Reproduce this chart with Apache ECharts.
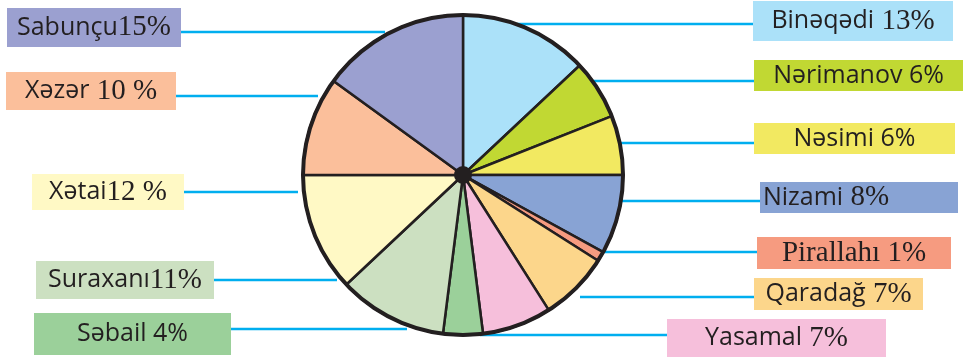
<!DOCTYPE html>
<html>
<head>
<meta charset="utf-8">
<script src="https://cdn.jsdelivr.net/npm/echarts@6/dist/echarts.min.js"></script>
<style>
  html, body { margin: 0; padding: 0; background: #fff; }
  #chart { width: 964px; height: 357px; }
</style>
</head>
<body>
<div id="chart"></div>
<script>
// rayonlar, yuxarıdan saat əqrəbi istiqamətində
const names = ['Binəqədi', 'Nərimanov', 'Nəsimi', 'Nizami', 'Pirallahı', 'Qaradağ', 'Yasamal', 'Səbail', 'Suraxanı', 'Xətai', 'Xəzər', 'Sabunçu'];
const values = [13, 6, 6, 8, 1, 7, 7, 4, 11, 12, 10, 15];
const pctText = [' 13%', ' 6%', ' 6%', ' 8%', ' 1%', ' 7%', ' 7%', ' 4%', '11%', '12 %', ' 10 %', '15%'];
// font of name / percent part: s = sans, r = serif
const nameFont = ['s', 's', 's', 's', 'r', 's', 's', 's', 's', 's', 's', 's'];
const pctFont  = ['r', 's', 's', 'r', 'r', 'r', 'r', 's', 'r', 'r', 'r', 'r'];
const colors = ['#abe1f9', '#c1d833', '#f2e961', '#88a3d4', '#f69b80', '#fcd68b', '#f6bfdb', '#9bd09a', '#cce0c1', '#fff9c5', '#fbbf9b', '#9ba0d0'];

// label boxes [left, top, width, height], line y and inner end of line
const boxes = [
  [753, 1, 200, 40], [754, 60, 209, 31], [754, 123, 201, 31], [760, 182, 198, 31],
  [757, 237, 194, 32], [754, 278, 169, 32], [667, 319, 219, 38], [34, 313, 197, 42],
  [36, 261, 178, 38], [32, 174, 152, 36], [6, 72, 170, 38], [7, 8, 174, 39]
];
const textPadRight = [0, 0, 0, 66, 0, 0, 0, 0, 0, 0, 0, 0];
const lineY = [24, 81, 143, 201, 252, 297, 335, 329, 280, 192, 96, 32];
const lineInner = [517, 587, 618, 618, 600, 580, 480, 407, 337, 298, 318, 385];

const pieCenter = [463, 175];
const pieR = 160;
const LH = 30;

const chart = echarts.init(document.getElementById('chart'));

const option = {
  animation: false,
  series: [
    {
      type: 'pie',
      center: pieCenter,
      radius: pieR,
      startAngle: 90,
      clockwise: true,
      silent: true,
      avoidLabelOverlap: false,
      itemStyle: { borderColor: '#231f20', borderWidth: 2.5 },
      label: {
        show: true,
        position: 'outside',
        formatter: p => '{n' + nameFont[p.dataIndex] + '|' + p.name + '}{p' + pctFont[p.dataIndex] + '|' + pctText[p.dataIndex] + '}',
        rich: {
          ns: { fontFamily: 'Open Sans', fontSize: 25, color: '#231f20', lineHeight: LH },
          nr: { fontFamily: 'Liberation Serif', fontSize: 29, color: '#231f20', lineHeight: LH },
          ps: { fontFamily: 'Open Sans', fontSize: 25, color: '#231f20', lineHeight: LH },
          pr: { fontFamily: 'Liberation Serif', fontSize: 29, color: '#231f20', lineHeight: LH }
        }
      },
      labelLine: { show: true, length: 10, length2: 10, lineStyle: { color: '#00aeef', width: 2.5 } },
      labelLayout: function (p) {
        const i = p.dataIndex, b = boxes[i];
        const onRight = b[0] > pieCenter[0];
        const edge = onRight ? b[0] : b[0] + b[2];
        return {
          x: b[0] + b[2] / 2,
          y: b[1] + b[3] / 2,
          align: 'center',
          verticalAlign: 'middle',
          labelLinePoints: [[lineInner[i], lineY[i]], [(lineInner[i] + edge) / 2, lineY[i]], [edge, lineY[i]]]
        };
      },
      data: names.map((n, i) => {
        const b = boxes[i];
        const pv = (b[3] - LH) / 2;
        return {
          name: n,
          value: values[i],
          itemStyle: { color: colors[i] },
          label: {
            backgroundColor: colors[i],
            width: b[2] - textPadRight[i],
            padding: [pv, textPadRight[i], pv, 0]
          }
        };
      })
    },
    {
      // outer rim
      type: 'pie',
      center: pieCenter,
      radius: [pieR - 2, pieR + 2],
      silent: true,
      label: { show: false },
      labelLine: { show: false },
      itemStyle: { color: '#231f20' },
      data: [1]
    },
    {
      // centre dot
      type: 'pie',
      center: pieCenter,
      radius: 9,
      silent: true,
      label: { show: false },
      labelLine: { show: false },
      itemStyle: { color: '#231f20' },
      data: [1]
    }
  ]
};

chart.setOption(option);
</script>
</body>
</html>
